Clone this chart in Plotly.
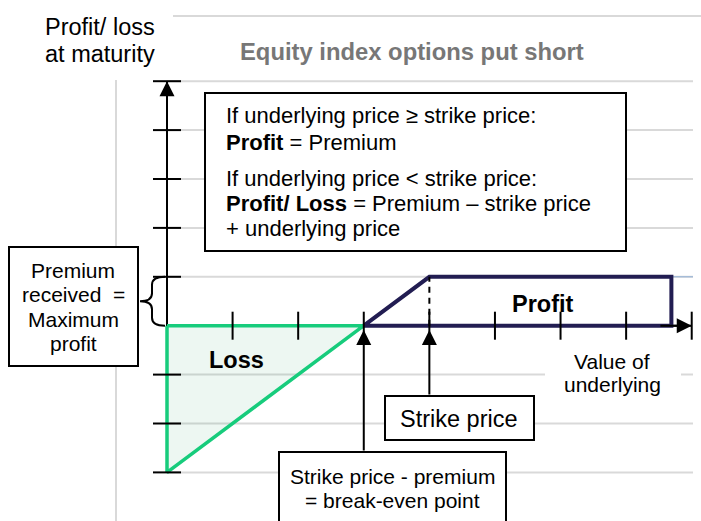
import plotly.graph_objects as go

# ---------------- data ----------------
x_ticks = [1, 2, 3, 4, 5, 6, 7, 8]
y_ticks = [-3, -2, -1, 1, 2, 3, 4, 5]
grid_y = [-3, -2, -1, 1, 2, 3, 4, 5]
strike = 4
premium = 1
breakeven = strike - premium
x_max = 8
y_min, y_max = -3, 5
loss_x = [0, 3, 0, 0]
loss_y = [0, 0, -3, 0]
profit_x = [3, 4, 7.69, 7.69, 3]
profit_y = [0, 1, 1, 0, 0]

# ---------------- geometry ----------------
W, H = 701, 521
X0_PX, UX = 167.0, 65.59
Y0_PX, UY = 325.7, 48.9
xr = [-X0_PX / UX, (W - X0_PX) / UX]
yr = [-(H - Y0_PX) / UY, Y0_PX / UY]


def dx(px):
    return (px - X0_PX) / UX


def dy(py):
    return (Y0_PX - py) / UY


FONT = "Arial, 'Liberation Sans', sans-serif"
GRID = "#d9d9d9"
GREEN = "#17cc7c"
NAVY = "#221d52"

fig = go.Figure()

# axis lines
fig.add_trace(go.Scatter(x=[0, x_max], y=[0, 0], mode="lines",
                         line=dict(color="black", width=2), hoverinfo="skip"))
fig.add_trace(go.Scatter(x=[0, 0], y=[y_min, y_max], mode="lines",
                         line=dict(color="black", width=2), hoverinfo="skip"))
# loss triangle
fig.add_trace(go.Scatter(x=loss_x, y=loss_y, mode="lines", fill="toself",
                         fillcolor="rgba(30,150,90,0.08)",
                         line=dict(color=GREEN, width=3.5), hoverinfo="skip"))
# profit region
fig.add_trace(go.Scatter(x=profit_x, y=profit_y, mode="lines",
                         line=dict(color=NAVY, width=4), hoverinfo="skip"))
# dashed strike line
fig.add_trace(go.Scatter(x=[strike, strike], y=[0, premium], mode="lines",
                         line=dict(color="black", width=2, dash="6px,5px"),
                         hoverinfo="skip"))
# ticks
fig.add_trace(go.Scatter(x=x_ticks, y=[0] * len(x_ticks), mode="markers",
                         marker=dict(symbol="line-ns-open", size=20, color="black",
                                     line=dict(color="black", width=2)),
                         hoverinfo="skip"))
fig.add_trace(go.Scatter(x=[0] * len(y_ticks), y=y_ticks, mode="markers",
                         marker=dict(symbol="line-ew-open", size=20, color="black",
                                     line=dict(color="black", width=2)),
                         hoverinfo="skip"))

shapes = []
# gridlines
for g in grid_y:
    shapes.append(dict(type="line", xref="x", yref="y", x0=0, x1=dx(693),
                       y0=g, y1=g, line=dict(color=GRID, width=2), layer="below"))
shapes.append(dict(type="line", xref="x", yref="y", x0=dx(173), x1=dx(701),
                   y0=dy(16), y1=dy(16), line=dict(color=GRID, width=2), layer="below"))
shapes.append(dict(type="line", xref="x", yref="y", x0=dx(116), x1=dx(116),
                   y0=dy(80), y1=dy(530), line=dict(color=GRID, width=2), layer="below"))
shapes.append(dict(type="line", xref="x", yref="y", x0=profit_x[2], x1=dx(693),
                   y0=premium, y1=premium, line=dict(color="#8fb0d8", width=1), layer="below"))


def box(x0, y0, x1, y1, border=True):
    shapes.append(dict(type="rect", xref="x", yref="y", x0=dx(x0), x1=dx(x1),
                       y0=dy(y0), y1=dy(y1), fillcolor="white",
                       line=dict(color="black" if border else "rgba(0,0,0,0)",
                                 width=2 if border else 0),
                       layer="below"))


box(205, 93, 626, 251)
box(9, 247, 138, 366)
box(385, 396, 534, 440)
box(279, 452, 506, 540)
box(545, 352, 681, 400, border=False)

# curly brace between 0 and premium
bx_in, bx_mid, bx_tip = dx(165), dx(152), dx(140)
y_top, y_bot = premium, 0
ym = (y_top + y_bot) / 2
r = dy(277) - dy(285)
path = (f"M{bx_in},{y_top} Q{bx_mid},{y_top} {bx_mid},{y_top - r} "
        f"L{bx_mid},{ym + r} Q{bx_mid},{ym} {bx_tip},{ym} "
        f"Q{bx_mid},{ym} {bx_mid},{ym - r} L{bx_mid},{y_bot + r} "
        f"Q{bx_mid},{y_bot} {bx_in},{y_bot}")
shapes.append(dict(type="path", xref="x", yref="y", path=path,
                   line=dict(color="black", width=2)))

annotations = []


def arrow(x, y, ax, ay):
    annotations.append(dict(x=x, y=y, ax=ax, ay=ay, xref="x", yref="y",
                            axref="x", ayref="y", text="", showarrow=True,
                            arrowhead=2, arrowsize=1.5, arrowwidth=2,
                            arrowcolor="black", standoff=0))


arrow(x_max, 0, x_max - 0.5, 0)
arrow(0, y_max, 0, y_max - 0.5)
arrow(breakeven, dy(330), breakeven, dy(452))
arrow(strike, dy(330), strike, dy(396))


def text(px, base, t, size, color="black", anchor="center"):
    cy = base - 0.35 * size
    annotations.append(dict(x=px / W, y=1 - cy / H, xref="paper", yref="paper",
                            text=t, showarrow=False, xanchor=anchor,
                            yanchor="middle", borderpad=0, borderwidth=0,
                            font=dict(family=FONT, size=size, color=color)))


# axis title
text(100, 35, "Profit/ loss", 23.5)
text(100, 62, "at maturity", 23.5)
# title
text(412, 60, "<b>Equity index options put short</b>", 23.8, color="#777777")
# main box
text(226, 123, "If underlying price ≥ strike price:", 22, anchor="left")
text(226, 150, "<b>Profit</b> = Premium", 22, anchor="left")
text(226, 186, "If underlying price &lt; strike price:", 22, anchor="left")
text(226, 211.5, "<b>Profit/ Loss</b> = Premium – strike price", 22, anchor="left")
text(226, 236, "+ underlying price", 22, anchor="left")
# premium box
text(73, 278, "Premium", 21)
text(73, 302, "received  =", 21)
text(73, 326.5, "Maximum", 21)
text(73, 350.5, "profit", 21)
# region labels
text(543, 312, "<b>Profit</b>", 23.5)
text(236, 368, "<b>Loss</b>", 23.5)
# value of underlying
text(612, 369, "Value of", 21)
text(612, 391.5, "underlying", 21)
# strike price
text(459, 427.5, "Strike price", 23.5)
# break-even
text(392, 483.5, "Strike price - premium", 21)
text(392, 508, "= break-even point", 21)

fig.update_layout(
    width=W, height=H,
    margin=dict(l=0, r=0, t=0, b=0),
    paper_bgcolor="white", plot_bgcolor="white",
    showlegend=False,
    xaxis=dict(range=xr, visible=False, fixedrange=True),
    yaxis=dict(range=yr, visible=False, fixedrange=True),
    shapes=shapes,
    annotations=annotations,
)

fig.write_html("out.html", config={"displayModeBar": False},
               post_script="document.body.style.margin='0';")
